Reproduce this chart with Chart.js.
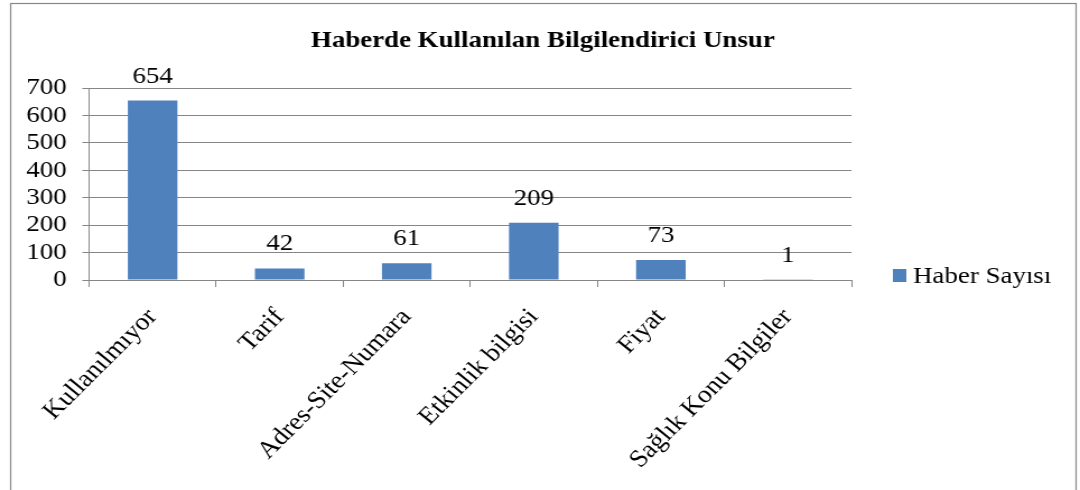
<!DOCTYPE html>
<html>
<head>
<meta charset="utf-8">
<script src="https://cdn.jsdelivr.net/npm/chart.js@4.4.1/dist/chart.umd.min.js"></script>
<style>
  html, body { margin: 0; padding: 0; background: #fff; overflow: hidden; }
</style>
</head>
<body>
<!-- the reference is slightly stretched sideways, so the canvas is drawn narrower and widened by css -->
<canvas id="haberChart" width="964" height="490" style="width:1080px;height:490px"></canvas>
<script>
const categories = ["Kullanılmıyor", "Tarif", "Adres-Site-Numara", "Etkinlik bilgisi", "Fiyat", "Sağlık Konu Bilgiler"];
const haberSayisi = [654, 42, 61, 209, 73, 1];
const yTicks = [0, 100, 200, 300, 400, 500, 600, 700];
const chartTitle = "Haberde Kullanılan Bilgilendirici Unsur";
const seriesLabel = "Haber Sayısı";

const barColor = "#4F81BD";
const lineColor = "#868686";
const serif = "'Liberation Serif', 'Times New Roman', serif";

Chart.defaults.font.family = serif;
Chart.defaults.color = "#000";

// frame, title, value labels and legend, drawn the way Excel places them
const excelLook = {
  id: "excelLook",
  beforeDraw(chart) {
    const ctx = chart.ctx;
    ctx.save();
    ctx.fillStyle = "#fff";
    ctx.fillRect(0, 0, chart.width, chart.height);
    ctx.restore();
  },
  afterDraw(chart) {
    const ctx = chart.ctx;
    ctx.save();

    ctx.strokeStyle = lineColor;
    ctx.lineWidth = 1.2;
    ctx.strokeRect(9.5, 3.5, 951, 520);

    ctx.fillStyle = "#000";
    ctx.textAlign = "center";
    ctx.textBaseline = "alphabetic";
    ctx.font = "bold 24px " + serif;
    ctx.fillText(chartTitle, 484.5, 47);

    ctx.font = "24px " + serif;
    const meta = chart.getDatasetMeta(0);
    meta.data.forEach((bar, i) => {
      ctx.fillText(String(haberSayisi[i]), bar.x, bar.y - 18);
    });

    ctx.fillStyle = barColor;
    ctx.fillRect(797, 269, 12, 13);
    ctx.fillStyle = "#000";
    ctx.textAlign = "left";
    ctx.fillText(seriesLabel, 815, 283);

    ctx.restore();
  }
};

const ctx = document.getElementById("haberChart").getContext("2d");

const haberChart = new Chart(ctx, {
  type: "bar",
  data: {
    labels: categories,
    datasets: [{
      label: seriesLabel,
      data: haberSayisi,
      backgroundColor: barColor,
      borderWidth: 0,
      categoryPercentage: 1,
      barPercentage: 0.39
    }]
  },
  options: {
    responsive: false,
    animation: false,
    layout: { padding: { top: 88, right: 204, bottom: 0, left: 0 } },
    scales: {
      x: {
        grid: { offset: true, drawOnChartArea: false, drawTicks: true, tickLength: 7, color: lineColor },
        border: { color: lineColor },
        ticks: { font: { size: 24.5 }, color: "#000", minRotation: 48, maxRotation: 48, autoSkip: false, padding: 16 },
        afterFit(scale) { scale.height = 210; }
      },
      y: {
        min: 0,
        max: 700,
        grid: { color: lineColor, tickLength: 6 },
        border: { color: lineColor },
        ticks: { font: { size: 24 }, color: "#000", padding: 14, autoSkip: false },
        afterBuildTicks(scale) { scale.ticks = yTicks.map(v => ({ value: v })); },
        afterFit(scale) { scale.width = 79.5; }
      }
    },
    plugins: {
      legend: { display: false },
      title: { display: false },
      tooltip: { enabled: false }
    }
  },
  plugins: [excelLook]
});
</script>
</body>
</html>
